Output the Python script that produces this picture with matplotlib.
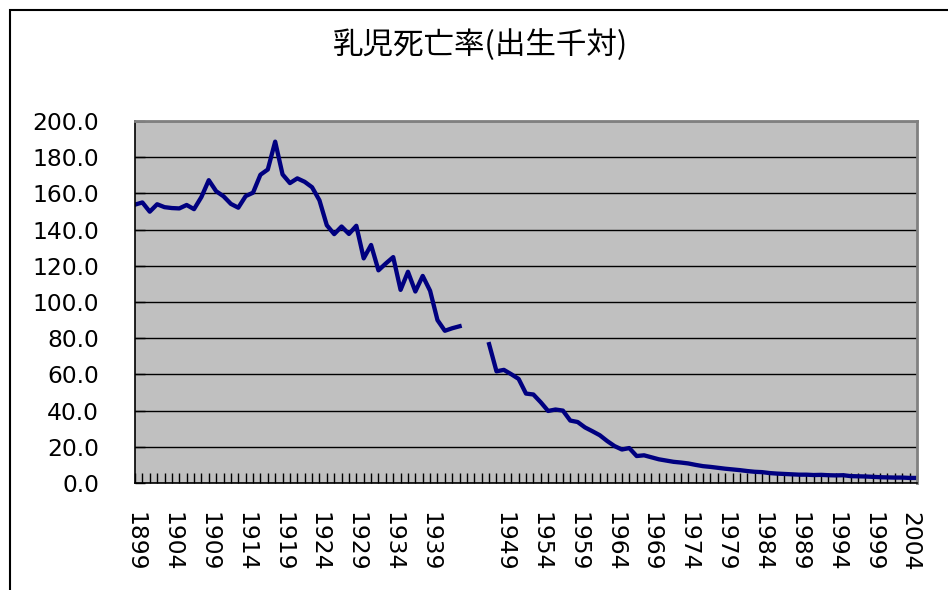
import numpy as np
import matplotlib
matplotlib.use("Agg")
import matplotlib.pyplot as plt
from matplotlib.patches import Rectangle

# 乳児死亡率 (出生千対), 1899-2005; 1944-1946 no data
years = [str(y) for y in range(1899, 2006)]
for y in ("1944", "1945", "1946"):
    years[years.index(y)] = ""

rate = [153.8, 155.0, 149.9, 154.0, 152.4, 151.9, 151.7, 153.6, 151.3, 158.0,
        167.3, 161.2, 158.4, 154.2, 152.1, 158.5, 160.4, 170.3, 173.2, 188.6,
        170.5, 165.7, 168.3, 166.4, 163.4, 156.2, 142.4, 137.5, 141.7, 137.6,
        142.1, 124.1, 131.5, 117.5, 121.3, 124.8, 106.7, 116.7, 105.8, 114.4,
        106.2, 90.0, 84.1, 85.5, 86.6, None, None, None, 76.7, 61.7,
        62.5, 60.1, 57.5, 49.4, 48.9, 44.6, 39.8, 40.6, 40.0, 34.5,
        33.7, 30.7, 28.6, 26.4, 23.2, 20.4, 18.5, 19.3, 14.9, 15.3,
        14.2, 13.1, 12.4, 11.7, 11.3, 10.8, 10.0, 9.3, 8.9, 8.4,
        7.9, 7.5, 7.1, 6.6, 6.2, 6.0, 5.5, 5.2, 5.0, 4.8,
        4.6, 4.6, 4.4, 4.5, 4.3, 4.2, 4.3, 3.8, 3.7, 3.6,
        3.4, 3.2, 3.1, 3.0, 3.0, 2.8, 2.8]

title = "乳児死亡率(出生千対)"
yticks = [0, 20, 40, 60, 80, 100, 120, 140, 160, 180, 200]

W, H = 948, 590
fig = plt.figure(figsize=(W / 100, H / 100), dpi=100)
ax = fig.add_axes([135 / W, (H - 483) / H, (917 - 135) / W, (483 - 121) / H])

x = np.arange(len(years))
y = np.array([np.nan if v is None else v for v in rate])
ax.plot(x, y, color="#000080", lw=3.1, solid_joinstyle="round")

ax.set_facecolor("#C0C0C0")
ax.set_xlim(0, len(years) - 1)
ax.set_ylim(0, 200)
ax.set_yticks(yticks)
ax.set_yticklabels([f"{v:.1f}" for v in yticks])
ax.yaxis.grid(True, color="black", lw=1)
ax.set_axisbelow(True)

ax.set_xticks(x, minor=True)
ax.set_xticks(x[::5])
ax.set_xticklabels(years[::5], rotation=-90, va="top", ha="center")
ax.tick_params(axis="x", which="both", direction="in", length=7, width=1, pad=21,
               labelsize=16.8)
ax.tick_params(axis="y", direction="in", length=7, width=1, pad=26, labelsize=16.8)

for s in ("top", "right"):
    ax.spines[s].set_color("#808080")
    ax.spines[s].set_linewidth(2)
for s in ("left", "bottom"):
    ax.spines[s].set_color("black")
    ax.spines[s].set_linewidth(1.2)

fig.text(481 / W, 1 - 45 / H, title, ha="center", va="center", fontsize=22,
         family=["Noto Sans CJK JP", "DejaVu Sans"])

fig.patches.append(Rectangle((10 / W, -0.1), 1.2, 1 - 10 / H + 0.1,
                             transform=fig.transFigure, fill=False,
                             ec="black", lw=1.5))

fig.savefig("out.png", dpi=100)
